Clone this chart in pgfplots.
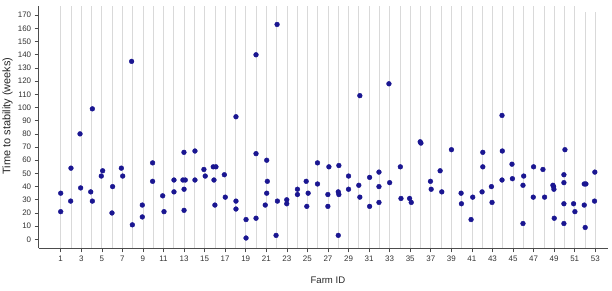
\documentclass[border=0pt]{standalone}
\usepackage{fontspec}
\setmainfont{Liberation Sans}
\usepackage{pgfplots}
\usepackage{pgfplotstable}
\pgfplotsset{compat=1.18}
\definecolor{dotblue}{RGB}{26,22,145}
\pgfplotstableread{
x y
1.00 35
1.00 21
1.97 29
2.00 54
2.94 39
2.88 80
3.92 36
4.08 29
4.08 99
4.95 48
5.08 52
6.05 40
5.99 20
6.90 54
7.03 48
7.97 11
7.90 135
8.94 26
8.94 17
9.94 58
9.94 44
10.92 33
11.05 21
12.02 45
12.02 36
12.99 66
12.89 45
13.12 45
13.00 38
13.00 22
14.06 67
14.06 45
14.93 53
15.06 48
15.84 55
16.10 55
15.91 45
16.00 26
16.92 49
17.01 32
18.05 29
18.05 23
18.05 93
19.03 15
19.03 1
20.00 65
20.00 16
20.00 140
21.04 60
21.10 44
21.04 35
20.90 26
22.08 29
22.05 163
21.95 3
22.99 30
22.99 27
24.03 38
24.03 34
24.88 44
25.07 35
24.94 25
25.98 58
25.98 42
27.09 55
26.99 34
26.99 25
28.06 56
28.00 36
28.06 34
28.00 3
29.00 48
29.00 38
30.00 41
30.10 32
30.10 109
31.05 47
31.05 25
31.96 51
31.96 40
31.96 28
33.00 43
32.93 118
34.04 55
34.10 31
34.94 31
35.10 28
35.97 74
36.04 73
36.97 44
37.04 38
37.91 52
38.07 36
39.01 68
39.95 35
39.98 27
40.92 15
41.08 32
42.06 66
42.06 55
41.99 36
42.90 40
42.96 28
43.96 67
43.93 45
43.93 94
44.90 57
44.94 46
46.04 48
45.97 41
45.97 12
47.00 55
46.97 32
47.91 53
48.07 32
48.88 41
48.95 40
48.98 38
49.01 16
50.05 68
49.95 49
49.95 43
49.95 27
49.95 12
50.89 27
51.02 21
51.93 42
52.09 42
51.93 26
52.02 9
52.96 51
52.93 29
}\farmdata
\begin{document}
\begin{tikzpicture}
\path[use as bounding box] (0,0) rectangle (612bp,291bp);
\begin{axis}[
  at={(38.7bp,42.7bp)}, anchor=south west,
  scale only axis, width=569.3bp, height=242.3bp,
  xmin=-1.14, xmax=54.24, ymin=-6.8, ymax=177,
  axis x line=bottom, axis y line=left,
  axis line style={-, black!70, line width=0.6pt},
  xtick={1,3,...,53}, minor xtick={2,4,...,52},
  ytick={0,10,...,170},
  xmajorgrids, xminorgrids,
  major grid style={draw=black!15, line width=0.7pt, shorten >=6.3bp},
  minor grid style={draw=black!15, line width=0.7pt, shorten >=6.3bp},
  tick align=outside, major tick length=4bp, minor tick length=0pt,
  tick style={black!70, line width=0.6pt},
  ticklabel style={font=\fontsize{8}{9}\selectfont, text=black!80},
  /pgf/number format/assume math mode=true,
  xlabel={Farm ID}, ylabel={Time to stability (weeks)},
  label style={text=black!85},
  xlabel style={font=\fontsize{9.6}{11}\selectfont, at={(axis description cs:0.508,-0.131)}, anchor=center},
  ylabel style={font=\fontsize{11}{12}\selectfont, at={(axis description cs:-0.0548,0.546)}, anchor=center},
  clip=false,
]
\addplot[only marks, mark=*, mark size=2.4bp, mark options={draw=dotblue, fill=dotblue}] table[x=x,y=y] {\farmdata};
\end{axis}
\end{tikzpicture}
\end{document}
